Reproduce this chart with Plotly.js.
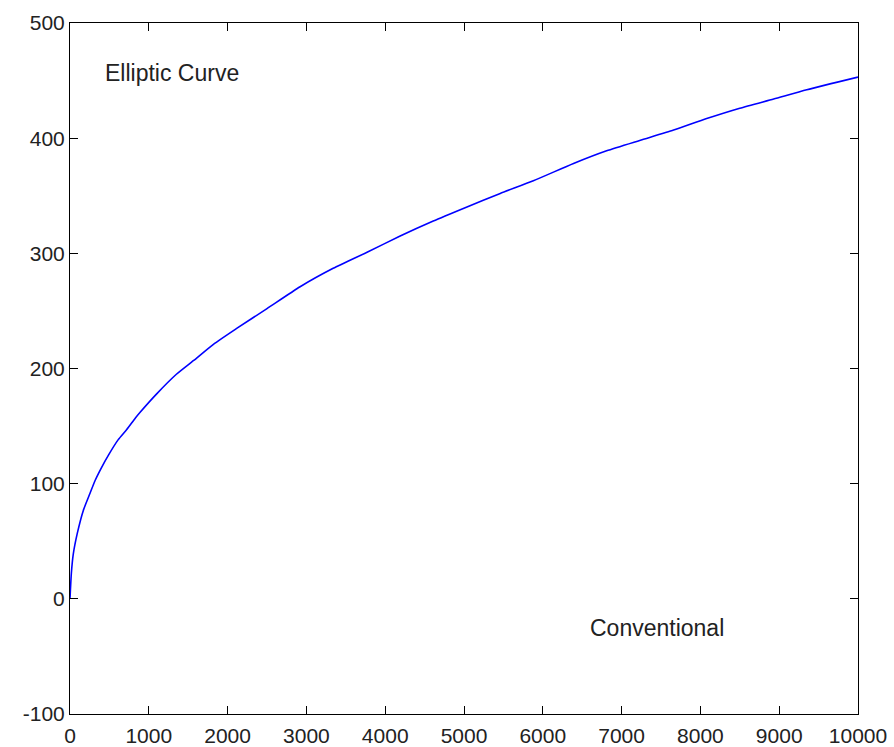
<!DOCTYPE html>
<html>
<head>
<meta charset="utf-8">
<script src="https://cdn.plot.ly/plotly-3.0.1.min.js"></script>
<style>
html,body{margin:0;padding:0;background:#fff;}
#chart{width:894px;height:747px;}
</style>
</head>
<body>
<div id="chart"></div>
<script>
const xValues = [0, 17, 42, 93, 170, 250, 320, 400, 490, 610, 720, 830, 890, 1100, 1350, 1570, 1820, 2120, 2500, 2920, 3340, 3770, 4190, 4610, 5030, 5460, 5880, 6390, 6810, 7230, 7660, 8080, 8500, 8930, 9350, 10000];
const yValues = [0, 22, 39, 57, 77, 91, 103, 114, 125, 138, 147, 157, 162, 178, 195, 207, 221, 235, 252, 271, 287, 301, 315, 328, 340, 352, 363, 378, 389, 398, 407, 417, 426, 434, 442, 453];
const xTickVals = [0, 1000, 2000, 3000, 4000, 5000, 6000, 7000, 8000, 9000, 10000];
const xTickText = ["0", "1000", "2000", "3000", "4000", "5000", "6000", "7000", "8000", "9000", "10000"];
const yTickVals = [-100, 0, 100, 200, 300, 400, 500];
const yTickText = ["-100", "0", "100", "200", "300", "400", "500"];
const labelTexts = ["Elliptic Curve", "Conventional"];
const labelX = [420, 6570];
const labelY = [457, -25];

const trace = {
  x: xValues,
  y: yValues,
  type: 'scatter',
  mode: 'lines',
  line: {color: '#0000ff', width: 1.6, shape: 'spline', smoothing: 0.6},
  hoverinfo: 'skip'
};

const axisCommon = {
  showgrid: false,
  zeroline: false,
  showline: true,
  linecolor: '#000',
  linewidth: 1,
  mirror: 'ticks',
  ticks: 'inside',
  ticklen: 8,
  tickwidth: 1,
  tickcolor: '#000',
  tickmode: 'array',
  tickfont: {family: 'Liberation Sans, Arial, sans-serif', size: 21, color: '#222'}
};

const layout = {
  width: 894,
  height: 747,
  margin: {l: 70, r: 36, t: 23, b: 33},
  paper_bgcolor: '#fff',
  plot_bgcolor: '#fff',
  showlegend: false,
  xaxis: Object.assign({}, axisCommon, {range: [0, 10000], tickvals: xTickVals, ticktext: xTickText, ticklabelstandoff: 3}),
  yaxis: Object.assign({}, axisCommon, {range: [-100, 500], tickvals: yTickVals, ticktext: yTickText}),
  annotations: labelTexts.map((t, i) => ({
    text: t, x: labelX[i], y: labelY[i], xref: 'x', yref: 'y',
    xanchor: 'left', yanchor: 'middle', showarrow: false,
    font: {family: 'Liberation Sans, Arial, sans-serif', size: 23, color: '#222'}
  }))
};

Plotly.newPlot('chart', [trace], layout, {staticPlot: true, displayModeBar: false});
</script>
</body>
</html>
